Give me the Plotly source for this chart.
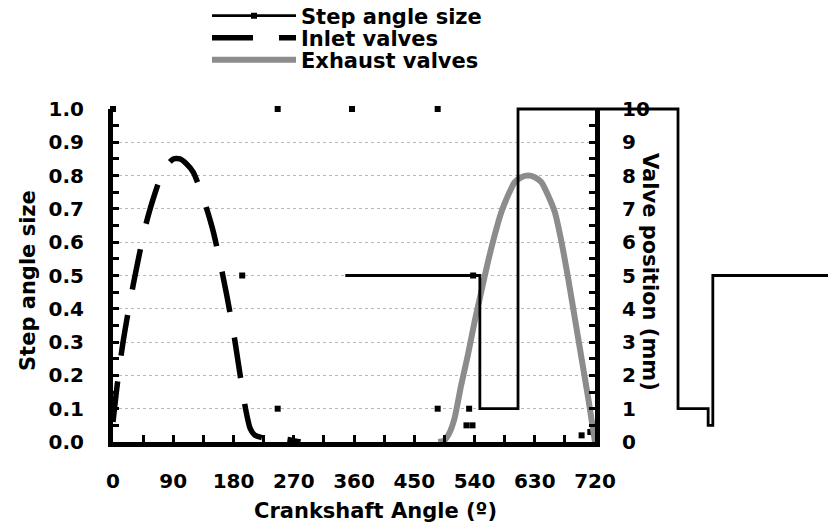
import plotly.graph_objects as go

# ---------------- data ----------------
x_tick_vals = [0, 90, 180, 270, 360, 450, 540, 630, 720]

inlet_deg = [0, 5, 10, 15, 20, 30, 40, 50, 60, 70, 80, 90, 100, 110, 120, 130,
             140, 150, 160, 170, 180, 190, 198, 205, 212, 230, 260, 280]
inlet_mm = [0.6, 1.5, 2.3, 3.0, 3.6, 4.7, 5.7, 6.6, 7.3, 7.9, 8.3, 8.5, 8.5, 8.35,
            8.1, 7.6, 7.0, 6.3, 5.4, 4.4, 3.3, 2.0, 1.0, 0.4, 0.2, 0.1, 0.08, 0.0]

exhaust_deg = [486, 495, 502, 510, 520, 530, 540, 550, 560, 570, 580, 590, 600, 610,
               620, 630, 640, 650, 660, 670, 680, 690, 700, 710, 720]
exhaust_mm = [0.0, 0.05, 0.25, 0.7, 1.7, 2.6, 3.6, 4.5, 5.4, 6.2, 6.9, 7.4, 7.8, 7.95,
              8.0, 7.95, 7.8, 7.4, 6.9, 6.0, 4.9, 3.7, 2.5, 1.3, 0.0]

step_deg = [347, 548, 605, 844, 889, 896, 1075]
step_size = [0.5, 0.1, 1.0, 0.1, 0.05, 0.5, 0.5]

step_point_deg = [0, 193, 246, 246, 357, 485, 485, 532, 528, 537, 538, 700, 713]
step_point_size = [1.0, 0.5, 1.0, 0.1, 1.0, 1.0, 0.1, 0.1, 0.05, 0.05, 0.5, 0.02, 0.03]

# ---------------- geometry ----------------
W, H = 828, 530
PL, PR, PT, PB = 113, 595, 109, 442   # pixel frame of the main plot


def fx(px):
    return (px - PL) / (W - PL)


def fy(py):
    return (H - py) / H


x_dom_end = fx(PR)
y_dom = [fy(PB), fy(PT)]
pad = 0.1
ysc = y_dom[1] - y_dom[0]
y3_dom = [y_dom[0] - pad * ysc, y_dom[1] + pad * ysc]

FONT = "DejaVu Sans"
BLACK = "#000000"

# markers as isolated points (gaps in between -> no connecting segments)
mk_x, mk_y = [], []
for a, b in zip(step_point_deg, step_point_size):
    mk_x += [a, None]
    mk_y += [b, None]

fig = go.Figure()

# step line drawn on a wider hidden x-axis with identical scale
fig.add_trace(go.Scatter(
    x=step_deg, y=step_size, mode="lines", line=dict(color=BLACK, width=2.8, shape="hv"),
    xaxis="x2", yaxis="y3", showlegend=False, hoverinfo="skip"))

fig.add_trace(go.Scatter(
    x=mk_x, y=mk_y, mode="lines+markers", name="Step angle size",
    connectgaps=False, cliponaxis=False,
    line=dict(color=BLACK, width=2.8),
    marker=dict(symbol="square", size=6, color=BLACK),
    xaxis="x", yaxis="y", legend="legend"))

fig.add_trace(go.Scatter(
    x=inlet_deg, y=inlet_mm, mode="lines", name="Inlet valves",
    line=dict(color=BLACK, width=5.5, dash="41px,26px", shape="spline", smoothing=0.6),
    xaxis="x", yaxis="y2", legend="legend2"))

fig.add_trace(go.Scatter(
    x=exhaust_deg, y=exhaust_mm, mode="lines", name="Exhaust valves",
    line=dict(color="#8c8c8c", width=6, shape="spline", smoothing=0.6),
    xaxis="x", yaxis="y2", legend="legend3"))

tickfont = dict(family=FONT, size=20, color=BLACK, weight="bold")
legfont = dict(family=FONT, size=21, color=BLACK, weight="bold")
titlefont = dict(family=FONT, size=21, color=BLACK, weight="bold")

common_leg = dict(xanchor="left", yanchor="middle", bgcolor="rgba(0,0,0,0)",
                  borderwidth=0, font=legfont, itemwidth=84, x=fx(207))

fig.update_layout(
    width=W, height=H,
    margin=dict(l=PL, r=0, t=0, b=0, autoexpand=False),
    paper_bgcolor="white", plot_bgcolor="rgba(0,0,0,0)",
    xaxis=dict(domain=[0, x_dom_end], range=[0, 720], anchor="y",
               tickvals=x_tick_vals, ticks="inside", ticklen=7, tickwidth=3,
               tickcolor=BLACK, showline=True, linewidth=5, linecolor=BLACK,
               showgrid=False, zeroline=False, tickfont=tickfont,
               ticklabelstandoff=17, automargin=False,
               minor=dict(dtick=45, ticks="inside", ticklen=7, tickwidth=3,
                          tickcolor=BLACK, showgrid=False)),
    yaxis=dict(domain=y_dom, range=[0, 1], anchor="x", dtick=0.1, tickformat=".1f",
               ticks="inside", ticklen=6, tickwidth=3, tickcolor=BLACK,
               showline=True, linewidth=5, linecolor=BLACK,
               showgrid=True, gridcolor="#b8b8b8", griddash="dot", gridwidth=1,
               zeroline=False, tickfont=tickfont, ticklabelstandoff=20,
               automargin=False,
               minor=dict(dtick=0.05, ticks="inside", ticklen=6, tickwidth=3,
                          tickcolor=BLACK, showgrid=False)),
    yaxis2=dict(domain=y_dom, range=[0, 10], anchor="x", overlaying="y", side="right",
                dtick=1, ticks="inside", ticklen=6, tickwidth=3, tickcolor=BLACK,
                showline=True, linewidth=5, linecolor=BLACK, showgrid=False,
                zeroline=False, tickfont=tickfont, ticklabelstandoff=18,
                automargin=False,
                minor=dict(dtick=0.5, ticks="inside", ticklen=6, tickwidth=3,
                           tickcolor=BLACK, showgrid=False)),
    xaxis2=dict(domain=[0, 1], range=[0, 720 / x_dom_end], anchor="y3", visible=False),
    yaxis3=dict(domain=y3_dom, range=[-pad, 1 + pad], anchor="x2", visible=False),
    legend=dict(y=fy(16), **common_leg),
    legend2=dict(y=fy(38), **common_leg),
    legend3=dict(y=fy(60), **common_leg),
    annotations=[
        dict(text="Crankshaft Angle (º)", x=fx(375), y=fy(511), xref="paper", yref="paper",
             xanchor="center", yanchor="middle", showarrow=False, font=titlefont),
        dict(text="Step angle size", x=fx(28), y=fy(281), xref="paper", yref="paper",
             xanchor="center", yanchor="middle", textangle=-90, showarrow=False,
             font=titlefont),
        dict(text="Valve position (mm)", x=fx(650), y=fy(272), xref="paper", yref="paper",
             xanchor="center", yanchor="middle", textangle=90, showarrow=False,
             font=titlefont),
    ],
)

fig.write_html("out.html", config={"displayModeBar": False},
               post_script="document.body.style.margin='0px';")
